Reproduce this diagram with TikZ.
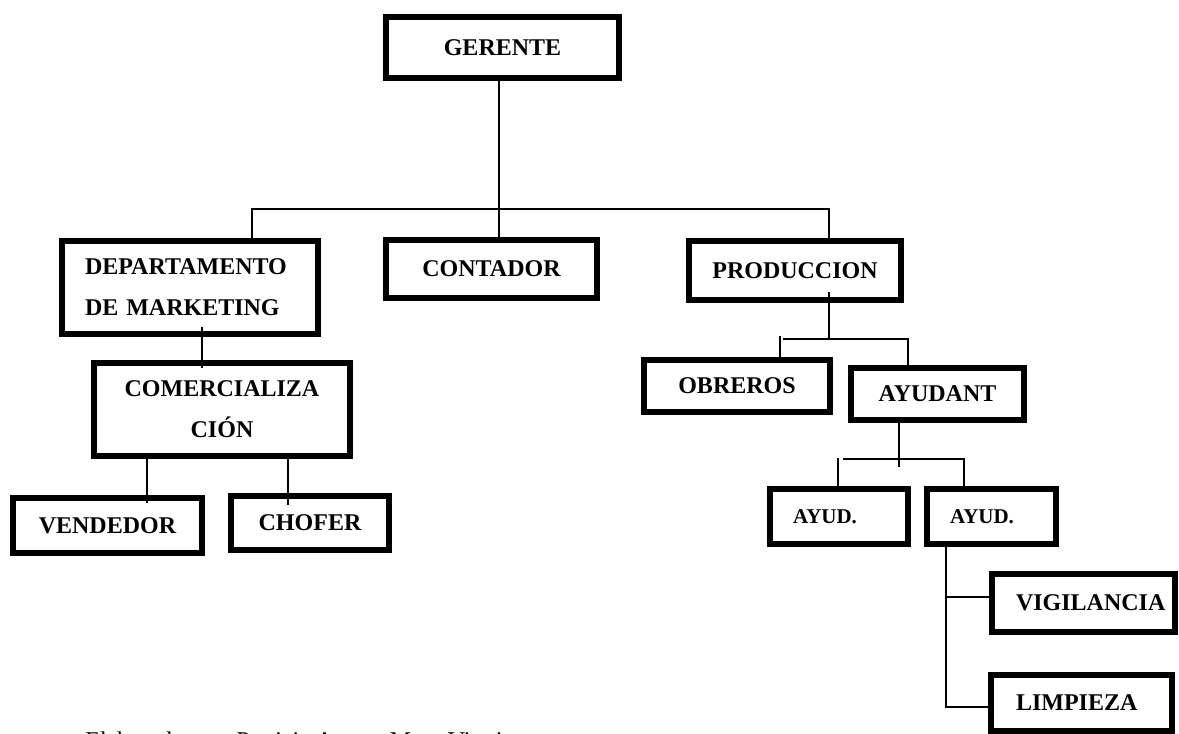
\documentclass[tikz,border=0pt]{standalone}
\usepackage{fontspec}
\setmainfont{Liberation Serif}
\begin{document}
\begin{tikzpicture}[x=0.5pt,y=-0.5pt,
  box/.style={draw, line width=3pt, inner sep=0pt, outer sep=0pt,
    font=\bfseries\fontsize{12pt}{20.5pt}\selectfont, align=center},
  lbox/.style={box, align=left, text width=#1},
  conn/.style={line width=0.85pt}]
\useasboundingbox (0,0) rectangle (1179,734);

% boxes
\node[box, minimum width=116.5pt, minimum height=30.5pt] (ger) at (502.5,47.5) {GERENTE};
\node[lbox=128pt, minimum height=46.5pt] (dep) at (190,287.5)
  {\hspace*{11.5pt}DEPARTAMENTO\\\hspace*{11.5pt}DE MARKETING};
\node[box, minimum width=105.5pt, minimum height=29pt] (con) at (491.5,269) {CONTADOR};
\node[box, minimum width=106pt, minimum height=29.5pt] (prod) at (795,270.5) {PRODUCCION};
\node[box, minimum width=93pt, minimum height=26pt] (obr) at (737,386) {OBREROS};
\node[box, minimum width=86.5pt, minimum height=26pt] (ayu) at (937.5,394) {AYUDANT};
\node[lbox=69pt, minimum height=27.5pt, font=\bfseries\fontsize{10.5pt}{12pt}\selectfont] (a1) at (839,516.5) {\hspace*{11.5pt}AYUD.};
\node[lbox=64.5pt, minimum height=27.5pt, font=\bfseries\fontsize{10.5pt}{12pt}\selectfont] (a2) at (991.5,516.5) {\hspace*{11.5pt}AYUD.};
\node[lbox=91.5pt, minimum height=29pt] (vig) at (1083.5,603) {\hspace*{12pt}VIGILANCIA};
\node[lbox=90.5pt, minimum height=28pt] (lim) at (1081.5,703) {\hspace*{12.5pt}LIMPIEZA};
\node[box, minimum width=128pt, minimum height=46.5pt] (com) at (222,409.5) {COMERCIALIZA\\CIÓN};
\node[box, minimum width=94.5pt, minimum height=27.5pt] (ven) at (107.5,525.5) {VENDEDOR};
\node[box, minimum width=79pt, minimum height=27pt] (cho) at (310,523) {CHOFER};

% junction coordinates
\coordinate (t1) at (499,209);
\coordinate (tl) at (252,209);
\coordinate (tr) at (829,209);
\coordinate (dc) at (202,300);
\coordinate (cv) at (147,480);
\coordinate (cc) at (288,480);
\coordinate (pj) at (829,339);
\coordinate (pl) at (780,336);
\coordinate (plh) at (783,339);
\coordinate (pr) at (908,339);
\coordinate (aj) at (899,467);
\coordinate (ajh) at (899,459);
\coordinate (al) at (838,458);
\coordinate (alh) at (843,459);
\coordinate (ar) at (964,459);
\coordinate (av) at (946,597);
\coordinate (alm) at (946,707);

% connectors
\draw[conn] (ger.south -| t1) -- (t1);
\draw[conn] (dep.north -| tl) -- (tl) -- (tr) -- (prod.north -| tr);
\draw[conn] (t1) -- (con.north -| t1);
\draw[conn] ([yshift=3.5pt]dep.south -| dc) -- ([yshift=-2.5pt]com.north -| dc);
\draw[conn] (com.south -| cv) -- ([yshift=-2.5pt]ven.north -| cv);
\draw[conn] (com.south -| cc) -- ([yshift=-4.5pt]cho.north -| cc);
\draw[conn] ([yshift=4pt]prod.south -| pj) -- (pj);
\draw[conn] (plh) -- (pr) -- (ayu.north -| pr);
\draw[conn] (pl) -- (obr.north -| pl);
\draw[conn] (ayu.south -| aj) -- (aj);
\draw[conn] (alh) -- (ar) -- (a2.north -| ar);
\draw[conn] (al) -- (a1.north -| al);
\draw[conn] (a2.south -| av) -- (alm) -- (lim.west |- alm);
\draw[conn] (av) -- (vig.west |- av);

% caption (cut by the page edge)
\node[anchor=base west, inner sep=0pt, font=\fontsize{12pt}{14pt}\selectfont] (cap) at (85,748)
  {Elaborado por: Patricia Aurora Mora Viteri};
\end{tikzpicture}
\end{document}
